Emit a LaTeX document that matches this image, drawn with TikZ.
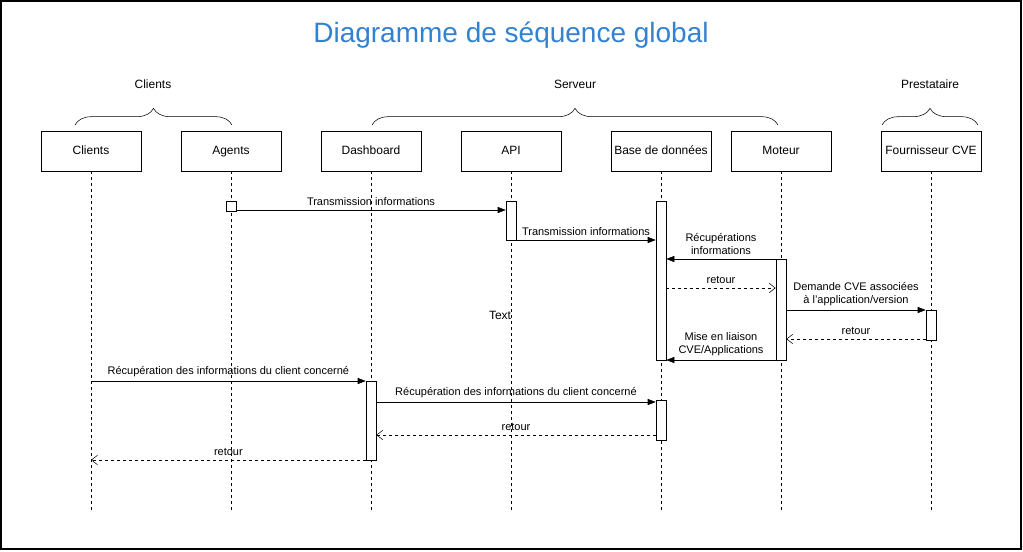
\documentclass[tikz,border=0pt]{standalone}
\usepackage{fontspec}
\setmainfont{Liberation Sans}
\usetikzlibrary{arrows.meta,decorations.pathreplacing}
\definecolor{titreBleu}{RGB}{51,130,210}
\tikzset{
    acteur/.style={draw,fill=white,minimum width=75pt,minimum height=30pt,inner sep=1pt,text height=6.5pt,text depth=2pt,font=\fontsize{9}{11}\selectfont},
    activ/.style={draw,fill=white,minimum width=7.5pt,inner sep=0pt},
    lifeline/.style={dash pattern={on 2.25pt off 2.25pt}},
    msg/.style={-{Triangle[length=6pt,width=4.5pt]}},
    retour/.style={dash pattern={on 2.25pt off 2.25pt},-{Straight Barb[length=4.5pt,width=7pt]}},
    lbl/.style={inner sep=1.5pt,align=center,font=\fontsize{8.25}{9.75}\selectfont},
    accolade/.style={decorate,decoration={brace,amplitude=12.5pt}}
}
\begin{document}
\begin{tikzpicture}[x=0.75pt,y=0.75pt,yscale=-1,xscale=1]
\useasboundingbox (0,0) rectangle (1023,551);
%Shape: Rectangle (cadre)
\draw [line width=1pt] (1,1) rectangle (1021,549);

% Text Node
\node [font=\fontsize{21}{25}\selectfont,text=titreBleu] (titre) at (511,35) {Diagramme de séquence global};
% Text Node
\node [lbl,font=\fontsize{9}{11}\selectfont] (grpClients) at (153,84) {Clients};
\node [lbl,font=\fontsize{9}{11}\selectfont] (grpServeur) at (575,84) {Serveur};
\node [lbl,font=\fontsize{9}{11}\selectfont] (grpPrest) at (930,84) {Prestataire};

%Shape: Curly Bracket
\draw [accolade] (75,125) -- (232,125) ;
\draw [accolade] (372,125) -- (778,125) ;
\draw [accolade] (882,125) -- (978,125) ;

%Shape: Rectangle (acteurs)
\node [acteur] (cli) at (91,151) {Clients};
\node [acteur] (agt) at (231,151) {Agents};
\node [acteur] (dash) at (371,151) {Dashboard};
\node [acteur] (api) at (511,151) {API};
\node [acteur] (bdd) at (661,151) {Base de données};
\node [acteur] (mot) at (781,151) {Moteur};
\node [acteur] (four) at (931,151) {Fournisseur CVE};

%Straight Lines (lignes de vie)
\foreach \a in {cli,agt,dash,api,bdd,mot,four}
    \draw [lifeline] (\a.south) -- (\a.south |- 0,510) ;

% Text Node
\node [font=\fontsize{9}{11}\selectfont] (txt) at (500,315) {Text};

%Shape: Rectangle (activations)
\node [activ,minimum height=7.5pt] (agtAct) at (231,206) {};
\node [activ,minimum height=29.25pt] (apiAct) at (511,220.5) {};
\node [activ,minimum height=119.25pt] (bddAct) at (661,280.5) {};
\node [activ,minimum height=75.75pt] (motAct) at (781,309.5) {};
\node [activ,minimum height=22.5pt] (fourAct) at (931,325) {};
\node [activ,minimum height=59.25pt] (dashAct) at (371,420.5) {};
\node [activ,minimum height=30pt] (bddAct2) at (661,420) {};

%Straight Lines (messages)
\draw [msg] (agtAct.east |- 0,210) -- (apiAct.west |- 0,210) node [lbl,midway,above=1.5pt] {Transmission informations};
\draw [msg] (apiAct.east |- 0,240) -- (bddAct.west |- 0,240) node [lbl,midway,above=1.5pt] {Transmission informations};
\draw [msg] (motAct.west |- 0,259) -- (bddAct.east |- 0,259) node [lbl,midway,above=1.5pt] {Récupérations\\informations};
\draw [retour] (bddAct.east |- 0,288) -- (motAct.west |- 0,288) node [lbl,midway,above=1.5pt] {retour};
\draw [msg] (motAct.east |- 0,310) -- (fourAct.west |- 0,310) node [lbl,midway,above=1.5pt] {Demande CVE associées\\à l'application/version};
\draw [retour] (fourAct.west |- 0,339) -- (motAct.east |- 0,339) node [lbl,midway,above=1.5pt] {retour};
\draw [msg] (motAct.west |- 0,360) -- (bddAct.east |- 0,360) node [lbl,midway,above=1.5pt] {Mise en liaison\\CVE/Applications};
\draw [msg] (cli.south |- 0,381) -- (dashAct.west |- 0,381) node [lbl,midway,above=1.5pt] {Récupération des informations du client concerné};
\draw [msg] (dashAct.east |- 0,402) -- (bddAct2.west |- 0,402) node [lbl,midway,above=1.5pt] {Récupération des informations du client concerné};
\draw [retour] (bddAct2.west |- 0,435) -- (dashAct.east |- 0,435) node [lbl,midway,above=1.5pt] {retour};
\draw [retour] (dashAct.west |- 0,460) -- (cli.south |- 0,460) node [lbl,midway,above=1.5pt] {retour};

\end{tikzpicture}
\end{document}
